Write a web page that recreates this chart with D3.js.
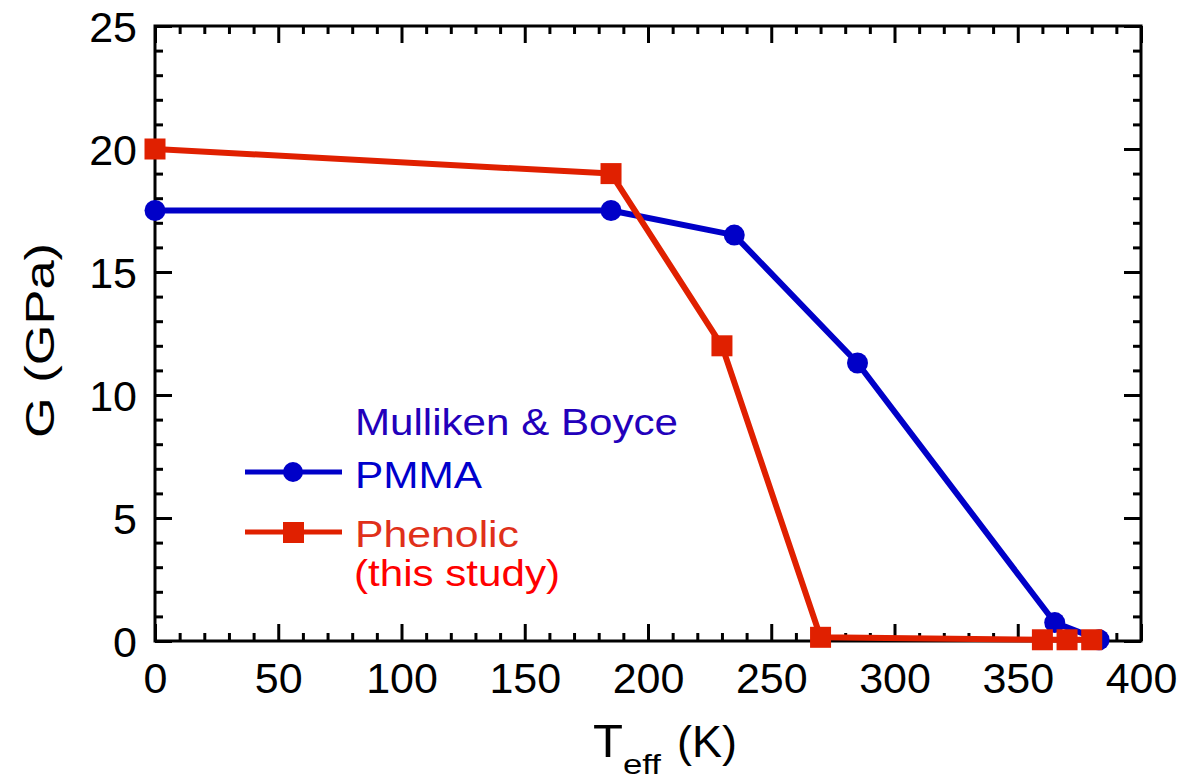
<!DOCTYPE html>
<html>
<head>
<meta charset="utf-8">
<script src="https://d3js.org/d3.v7.min.js"></script>
<style>
  body { margin: 0; background: #fff; }
  svg text { font-family: "Liberation Sans", Arial, sans-serif; }
</style>
</head>
<body>
<script>
// Chart data
//= ================================
const pmmaT = [0, 185, 235, 285, 365, 383];
const pmmaG = [17.5, 17.5, 16.5, 11.3, 0.75, 0.05];

const phenolicT = [0, 185, 230, 270, 360, 370, 380];
const phenolicG = [20, 19, 12, 0.15, 0.05, 0.05, 0.05];

const xMajorTicks = [0, 50, 100, 150, 200, 250, 300, 350, 400];
const yMajorTicks = [0, 5, 10, 15, 20, 25];

// Set up our chart
//= ================================
let svgWidth = 1183;
let svgHeight = 781;
let margin = { top: 26, right: 42, bottom: 140, left: 155 };
let width = svgWidth - margin.left - margin.right;
let height = svgHeight - margin.top - margin.bottom;

const blue = "#0000c8";
const red = "#e02000";

let svg = d3.select("body")
  .append("svg")
  .attr("width", svgWidth)
  .attr("height", svgHeight);

let chartGroup = svg.append("g")
  .attr("transform", `translate(${margin.left}, ${margin.top})`);

// Scales
let xScale = d3.scaleLinear().domain([0, 400]).range([0, width]);
let yScale = d3.scaleLinear().domain([0, 25]).range([height, 0]);

let xMinor = d3.range(0, 401, 10).filter(d => d % 50 !== 0);
let yMinor = d3.range(0, 26, 1).filter(d => d % 5 !== 0);

// Axes - ticks point inward on all four sides
function styleAxis(g) {
  g.select(".domain").remove();
  g.selectAll("line").attr("stroke", "#000").attr("stroke-width", 3);
}

// bottom
chartGroup.append("g")
  .attr("transform", `translate(0, ${height})`)
  .call(d3.axisBottom(xScale).tickValues(xMinor).tickSize(-8).tickFormat(""))
  .call(styleAxis);
let xAxisG = chartGroup.append("g")
  .attr("transform", `translate(0, ${height})`)
  .call(d3.axisBottom(xScale).tickValues(xMajorTicks).tickSize(-17))
  .call(styleAxis);
xAxisG.selectAll("text")
  .attr("y", 52)
  .attr("dy", null)
  .attr("fill", "#000")
  .attr("font-size", "43px")
  .attr("font-family", "Liberation Sans, Arial, sans-serif");

// top
chartGroup.append("g")
  .call(d3.axisTop(xScale).tickValues(xMinor).tickSize(-8).tickFormat(""))
  .call(styleAxis);
chartGroup.append("g")
  .call(d3.axisTop(xScale).tickValues(xMajorTicks).tickSize(-17).tickFormat(""))
  .call(styleAxis);

// left
chartGroup.append("g")
  .call(d3.axisLeft(yScale).tickValues(yMinor).tickSize(-8).tickFormat(""))
  .call(styleAxis);
let yAxisG = chartGroup.append("g")
  .call(d3.axisLeft(yScale).tickValues(yMajorTicks).tickSize(-17))
  .call(styleAxis);
yAxisG.selectAll("text")
  .attr("x", -18)
  .attr("dy", "0.36em")
  .attr("fill", "#000")
  .attr("font-size", "43px")
  .attr("font-family", "Liberation Sans, Arial, sans-serif");

// right
chartGroup.append("g")
  .attr("transform", `translate(${width}, 0)`)
  .call(d3.axisRight(yScale).tickValues(yMinor).tickSize(-8).tickFormat(""))
  .call(styleAxis);
chartGroup.append("g")
  .attr("transform", `translate(${width}, 0)`)
  .call(d3.axisRight(yScale).tickValues(yMajorTicks).tickSize(-17).tickFormat(""))
  .call(styleAxis);

// frame
chartGroup.append("rect")
  .attr("x", 0).attr("y", 0)
  .attr("width", width).attr("height", height)
  .attr("fill", "none")
  .attr("stroke", "#000")
  .attr("stroke-width", 3);

// Axis labels
svg.append("text")
  .attr("transform", `translate(54, 438) rotate(-90)`)
  .attr("font-size", "40px")
  .attr("textLength", 195)
  .attr("lengthAdjust", "spacingAndGlyphs")
  .attr("fill", "#000")
  .text("G (GPa)");

svg.append("text")
  .attr("x", 593).attr("y", 757)
  .attr("font-size", "47px")
  .attr("textLength", 30)
  .attr("lengthAdjust", "spacingAndGlyphs")
  .attr("fill", "#000")
  .text("T");
svg.append("text")
  .attr("x", 623).attr("y", 774)
  .attr("font-size", "27px")
  .attr("textLength", 38)
  .attr("lengthAdjust", "spacingAndGlyphs")
  .attr("fill", "#000")
  .text("eff");
svg.append("text")
  .attr("x", 677).attr("y", 757)
  .attr("font-size", "44px")
  .attr("textLength", 60)
  .attr("lengthAdjust", "spacingAndGlyphs")
  .attr("fill", "#000")
  .text("(K)");

// Data lines
let line = d3.line().x(d => xScale(d[0])).y(d => yScale(d[1]));

let pmma = pmmaT.map((t, i) => [t, pmmaG[i]]);
let phenolic = phenolicT.map((t, i) => [t, phenolicG[i]]);

chartGroup.append("path")
  .datum(pmma)
  .attr("d", line)
  .attr("fill", "none")
  .attr("stroke", blue)
  .attr("stroke-width", 6)
  .attr("stroke-linejoin", "round");

chartGroup.append("path")
  .datum(phenolic)
  .attr("d", line)
  .attr("fill", "none")
  .attr("stroke", red)
  .attr("stroke-width", 6)
  .attr("stroke-linejoin", "round");

chartGroup.append("g")
  .selectAll("circle")
  .data(pmma)
  .enter()
  .append("circle")
  .attr("cx", d => xScale(d[0]))
  .attr("cy", d => yScale(d[1]))
  .attr("r", 10.5)
  .attr("fill", blue);

chartGroup.append("g")
  .selectAll("rect")
  .data(phenolic)
  .enter()
  .append("rect")
  .attr("x", d => xScale(d[0]) - 10.5)
  .attr("y", d => yScale(d[1]) - 10.5)
  .attr("width", 21)
  .attr("height", 21)
  .attr("fill", red);

// Legend
let legend = svg.append("g");
legend.append("text")
  .attr("x", 355).attr("y", 435)
  .attr("font-size", "36px")
  .attr("textLength", 323)
  .attr("lengthAdjust", "spacingAndGlyphs")
  .attr("fill", "#2200bb")
  .text("Mulliken & Boyce");

legend.append("line")
  .attr("x1", 245).attr("x2", 342)
  .attr("y1", 472).attr("y2", 472)
  .attr("stroke", blue).attr("stroke-width", 5);
legend.append("circle")
  .attr("cx", 293).attr("cy", 472).attr("r", 10)
  .attr("fill", blue);
legend.append("text")
  .attr("x", 355).attr("y", 488)
  .attr("font-size", "36px")
  .attr("textLength", 127)
  .attr("lengthAdjust", "spacingAndGlyphs")
  .attr("fill", "#0000cc")
  .text("PMMA");

legend.append("line")
  .attr("x1", 245).attr("x2", 342)
  .attr("y1", 532).attr("y2", 532)
  .attr("stroke", red).attr("stroke-width", 5);
legend.append("rect")
  .attr("x", 283).attr("y", 522).attr("width", 21).attr("height", 21)
  .attr("fill", red);
legend.append("text")
  .attr("x", 355).attr("y", 547)
  .attr("font-size", "36px")
  .attr("textLength", 164)
  .attr("lengthAdjust", "spacingAndGlyphs")
  .attr("fill", "#e0301a")
  .text("Phenolic");
legend.append("text")
  .attr("x", 354).attr("y", 586)
  .attr("font-size", "36px")
  .attr("textLength", 206)
  .attr("lengthAdjust", "spacingAndGlyphs")
  .attr("fill", "#ff0000")
  .text("(this study)");
</script>
</body>
</html>
